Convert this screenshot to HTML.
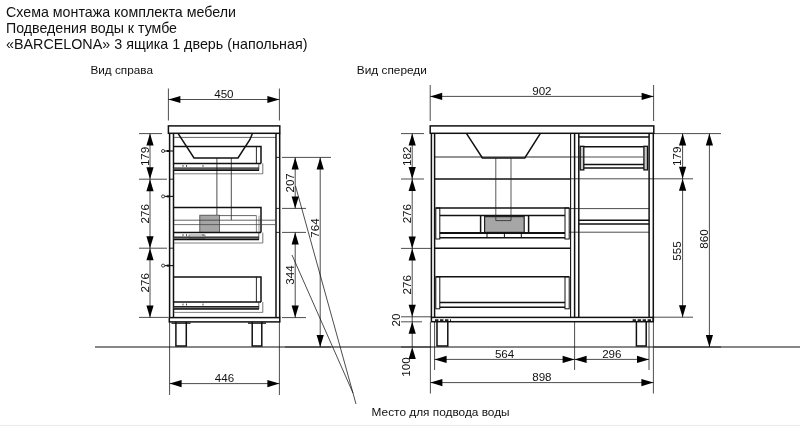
<!DOCTYPE html>
<html><head><meta charset="utf-8"><title>Схема монтажа</title>
<style>
html,body{margin:0;padding:0;background:#fff;}
body{width:800px;height:426px;overflow:hidden;font-family:"Liberation Sans",sans-serif;}
svg{display:block;will-change:transform;font-family:"Liberation Sans",sans-serif;fill:#111;}
</style></head><body>
<svg width="800" height="426" viewBox="0 0 800 426">
<rect x="0" y="0" width="800" height="426" fill="#fff" stroke="none"/>
<text x="6" y="17.2" font-size="14.2" text-anchor="start" textLength="230" lengthAdjust="spacingAndGlyphs">Схема монтажа комплекта мебели</text>
<text x="6" y="33.2" font-size="14.2" text-anchor="start" textLength="171" lengthAdjust="spacingAndGlyphs">Подведения воды к тумбе</text>
<text x="6" y="49.2" font-size="14.2" text-anchor="start" textLength="301.5" lengthAdjust="spacingAndGlyphs">«BARCELONA» 3 ящика 1 дверь (напольная)</text>
<text x="90.4" y="74.4" font-size="11.7" text-anchor="start" textLength="62.6" lengthAdjust="spacingAndGlyphs">Вид справа</text>
<text x="356.8" y="74.4" font-size="11.7" text-anchor="start" textLength="70" lengthAdjust="spacingAndGlyphs">Вид спереди</text>
<text x="371.6" y="416" font-size="11.7" text-anchor="start" textLength="138" lengthAdjust="spacingAndGlyphs">Место для подвода воды</text>
<rect x="0" y="425" width="800" height="1" fill="#ececec" stroke="#111" stroke-width="0"/>
<line x1="95" y1="347.0" x2="800" y2="347.0" stroke="#111" stroke-width="1.0"/>
<line x1="285" y1="347.0" x2="331" y2="347.0" stroke="#111" stroke-width="0.75"/>
<line x1="401" y1="347.0" x2="431" y2="347.0" stroke="#111" stroke-width="0.75"/>
<line x1="654" y1="347.0" x2="721" y2="347.0" stroke="#111" stroke-width="0.75"/>
<line x1="168.4" y1="88.5" x2="168.4" y2="120.5" stroke="#111" stroke-width="0.75"/>
<line x1="279.4" y1="88.5" x2="279.4" y2="120.5" stroke="#111" stroke-width="0.75"/>
<line x1="168.4" y1="99.5" x2="279.4" y2="99.5" stroke="#111" stroke-width="0.75"/>
<polygon points="168.4,99.5 180.4,95.9 180.4,103.1" fill="#000"/>
<polygon points="279.4,99.5 267.4,95.9 267.4,103.1" fill="#000"/>
<text x="223.89999999999998" y="97.9" font-size="11.6" text-anchor="middle">450</text>
<rect x="168.4" y="125.9" width="111.4" height="7.4" fill="none" stroke="#111" stroke-width="1.5"/>
<line x1="169.6" y1="133.4" x2="169.6" y2="317.5" stroke="#111" stroke-width="1.5"/>
<line x1="173.5" y1="133.4" x2="173.5" y2="317.5" stroke="#111" stroke-width="1.5"/>
<line x1="173.5" y1="137.4" x2="276" y2="137.4" stroke="#333" stroke-width="0.75"/>
<line x1="169.6" y1="179.2" x2="173.5" y2="179.2" stroke="#111" stroke-width="0.9"/>
<line x1="169.6" y1="248.2" x2="173.5" y2="248.2" stroke="#111" stroke-width="0.9"/>
<line x1="276.0" y1="133.4" x2="276.0" y2="317.5" stroke="#111" stroke-width="1.5"/>
<line x1="279.7" y1="133.4" x2="279.7" y2="317.5" stroke="#111" stroke-width="1.5"/>
<line x1="276" y1="157.4" x2="279.7" y2="157.4" stroke="#111" stroke-width="0.9"/>
<line x1="276" y1="208.4" x2="279.7" y2="208.4" stroke="#111" stroke-width="0.9"/>
<line x1="276" y1="232.4" x2="279.7" y2="232.4" stroke="#111" stroke-width="0.9"/>
<polyline points="178,133.4 194,158 238,158 250,139.5 252.4,133.4" fill="none" stroke="#111" stroke-width="1.5" stroke-linejoin="miter"/>
<polyline points="173.8,146.6 261,146.6 261,163.5" fill="none" stroke="#111" stroke-width="1.5" stroke-linejoin="miter"/>
<line x1="256.4" y1="146.6" x2="256.4" y2="163.5" stroke="#111" stroke-width="0.9"/>
<line x1="173.8" y1="163.4" x2="261" y2="163.4" stroke="#111" stroke-width="1.5"/>
<rect x="173.8" y="167.8" width="85.2" height="2.6" fill="#8a8a8a" stroke="#111" stroke-width="0"/>
<line x1="173.8" y1="168.0" x2="259" y2="168.0" stroke="#222" stroke-width="1.2"/>
<line x1="173.8" y1="170.3" x2="259" y2="170.3" stroke="#111" stroke-width="1.5"/>
<line x1="173.8" y1="173.8" x2="262.8" y2="173.8" stroke="#555" stroke-width="0.75"/>
<line x1="262.8" y1="163.4" x2="262.8" y2="173.8" stroke="#444" stroke-width="0.75"/>
<line x1="258.8" y1="163.4" x2="258.8" y2="170.4" stroke="#333" stroke-width="0.75"/>
<line x1="183" y1="165.0" x2="183" y2="166.8" stroke="#333" stroke-width="0.9"/>
<line x1="186.5" y1="165.0" x2="186.5" y2="166.8" stroke="#333" stroke-width="0.9"/>
<line x1="203" y1="165.0" x2="203" y2="166.8" stroke="#333" stroke-width="0.9"/>
<line x1="216.9" y1="158" x2="216.9" y2="215" stroke="#111" stroke-width="0.75"/>
<line x1="231.3" y1="158" x2="231.3" y2="220" stroke="#111" stroke-width="0.75"/>
<ellipse cx="163.1" cy="151" rx="1.6" ry="1.5" fill="none" stroke="#111" stroke-width="0.8"/>
<line x1="164.7" y1="151" x2="173.5" y2="151" stroke="#111" stroke-width="1.1"/>
<line x1="166.8" y1="151" x2="169.4" y2="151" stroke="#111" stroke-width="2.0"/>
<ellipse cx="163.1" cy="196.4" rx="1.6" ry="1.5" fill="none" stroke="#111" stroke-width="0.8"/>
<line x1="164.7" y1="196.4" x2="173.5" y2="196.4" stroke="#111" stroke-width="1.1"/>
<line x1="166.8" y1="196.4" x2="169.4" y2="196.4" stroke="#111" stroke-width="2.0"/>
<ellipse cx="163.1" cy="265.6" rx="1.6" ry="1.5" fill="none" stroke="#111" stroke-width="0.8"/>
<line x1="164.7" y1="265.6" x2="173.5" y2="265.6" stroke="#111" stroke-width="1.1"/>
<line x1="166.8" y1="265.6" x2="169.4" y2="265.6" stroke="#111" stroke-width="2.0"/>
<polyline points="173.8,207.6 261,207.6 261,232.6" fill="none" stroke="#111" stroke-width="1.5" stroke-linejoin="miter"/>
<rect x="199.8" y="215.2" width="19.6" height="17.4" fill="#a6a6a6" stroke="#444" stroke-width="0.8"/>
<line x1="256.4" y1="215.6" x2="256.4" y2="232.6" stroke="#555" stroke-width="0.75"/>
<line x1="259.0" y1="215.6" x2="259.0" y2="232.6" stroke="#777" stroke-width="0.75"/>
<line x1="219.4" y1="215.6" x2="256.4" y2="215.6" stroke="#333" stroke-width="0.75"/>
<line x1="173.8" y1="220.2" x2="275.3" y2="220.2" stroke="#333" stroke-width="0.75"/>
<line x1="173.8" y1="224.6" x2="275.3" y2="224.6" stroke="#444" stroke-width="0.75"/>
<line x1="173.8" y1="232.6" x2="261" y2="232.6" stroke="#111" stroke-width="1.5"/>
<rect x="173.8" y="237.0" width="85.2" height="2.6" fill="#8a8a8a" stroke="#111" stroke-width="0"/>
<line x1="173.8" y1="237.2" x2="259" y2="237.2" stroke="#222" stroke-width="1.2"/>
<line x1="173.8" y1="239.5" x2="259" y2="239.5" stroke="#111" stroke-width="1.5"/>
<line x1="173.8" y1="243.0" x2="262.8" y2="243.0" stroke="#555" stroke-width="0.75"/>
<line x1="262.8" y1="232.6" x2="262.8" y2="243.0" stroke="#444" stroke-width="0.75"/>
<line x1="258.8" y1="232.6" x2="258.8" y2="239.6" stroke="#333" stroke-width="0.75"/>
<line x1="183" y1="234.2" x2="183" y2="236.0" stroke="#333" stroke-width="0.9"/>
<line x1="186.5" y1="234.2" x2="186.5" y2="236.0" stroke="#333" stroke-width="0.9"/>
<line x1="203" y1="234.2" x2="203" y2="236.0" stroke="#333" stroke-width="0.9"/>
<rect x="189" y="235" width="16" height="3.4" fill="none" stroke="#444" stroke-width="0.6"/>
<polyline points="173.8,277 261,277 261,302" fill="none" stroke="#111" stroke-width="1.5" stroke-linejoin="miter"/>
<line x1="256.4" y1="277" x2="256.4" y2="302" stroke="#111" stroke-width="0.9"/>
<line x1="173.8" y1="302" x2="261" y2="302" stroke="#111" stroke-width="1.5"/>
<rect x="173.8" y="306.4" width="85.2" height="2.6" fill="#8a8a8a" stroke="#111" stroke-width="0"/>
<line x1="173.8" y1="306.6" x2="259" y2="306.6" stroke="#222" stroke-width="1.2"/>
<line x1="173.8" y1="308.9" x2="259" y2="308.9" stroke="#111" stroke-width="1.5"/>
<line x1="173.8" y1="312.4" x2="262.8" y2="312.4" stroke="#555" stroke-width="0.75"/>
<line x1="262.8" y1="302" x2="262.8" y2="312.4" stroke="#444" stroke-width="0.75"/>
<line x1="258.8" y1="302" x2="258.8" y2="309.0" stroke="#333" stroke-width="0.75"/>
<line x1="183" y1="303.6" x2="183" y2="305.4" stroke="#333" stroke-width="0.9"/>
<line x1="186.5" y1="303.6" x2="186.5" y2="305.4" stroke="#333" stroke-width="0.9"/>
<line x1="203" y1="303.6" x2="203" y2="305.4" stroke="#333" stroke-width="0.9"/>
<rect x="169.3" y="317.6" width="110.5" height="4.3" fill="none" stroke="#111" stroke-width="1.5"/>
<polyline points="175.9,322 175.9,346.1 186.3,346.1 186.3,322" fill="none" stroke="#111" stroke-width="1.5" stroke-linejoin="miter"/>
<line x1="171.5" y1="323.2" x2="190.5" y2="323.2" stroke="#111" stroke-width="1.2"/>
<polyline points="252.2,322 252.2,346.1 261.8,346.1 261.8,322" fill="none" stroke="#111" stroke-width="1.5" stroke-linejoin="miter"/>
<line x1="248" y1="323.2" x2="266" y2="323.2" stroke="#111" stroke-width="1.2"/>
<line x1="169.6" y1="322" x2="169.6" y2="395" stroke="#111" stroke-width="0.75"/>
<line x1="279.4" y1="322" x2="279.4" y2="395" stroke="#111" stroke-width="0.75"/>
<line x1="169.6" y1="383.6" x2="279.4" y2="383.6" stroke="#111" stroke-width="0.75"/>
<polygon points="169.6,383.6 181.6,380.0 181.6,387.20000000000005" fill="#000"/>
<polygon points="279.4,383.6 267.4,380.0 267.4,387.20000000000005" fill="#000"/>
<text x="224.5" y="382.0" font-size="11.6" text-anchor="middle">446</text>
<line x1="139" y1="133.6" x2="162" y2="133.6" stroke="#111" stroke-width="0.75"/>
<line x1="139" y1="179.2" x2="167" y2="179.2" stroke="#111" stroke-width="0.75"/>
<line x1="139" y1="248.2" x2="167" y2="248.2" stroke="#111" stroke-width="0.75"/>
<line x1="139" y1="317.4" x2="168" y2="317.4" stroke="#111" stroke-width="0.75"/>
<line x1="150" y1="133.6" x2="150" y2="179.2" stroke="#111" stroke-width="0.75"/>
<polygon points="150,133.6 146.4,145.6 153.6,145.6" fill="#000"/>
<polygon points="150,179.2 146.4,167.2 153.6,167.2" fill="#000"/>
<text x="148.8" y="156.39999999999998" font-size="11.6" text-anchor="middle" transform="rotate(-90 148.8 156.39999999999998)">179</text>
<line x1="150" y1="179.2" x2="150" y2="248.2" stroke="#111" stroke-width="0.75"/>
<polygon points="150,179.2 146.4,191.2 153.6,191.2" fill="#000"/>
<polygon points="150,248.2 146.4,236.2 153.6,236.2" fill="#000"/>
<text x="148.8" y="213.7" font-size="11.6" text-anchor="middle" transform="rotate(-90 148.8 213.7)">276</text>
<line x1="150" y1="248.2" x2="150" y2="317.4" stroke="#111" stroke-width="0.75"/>
<polygon points="150,248.2 146.4,260.2 153.6,260.2" fill="#000"/>
<polygon points="150,317.4 146.4,305.4 153.6,305.4" fill="#000"/>
<text x="148.8" y="282.79999999999995" font-size="11.6" text-anchor="middle" transform="rotate(-90 148.8 282.79999999999995)">276</text>
<line x1="282" y1="157.4" x2="331" y2="157.4" stroke="#111" stroke-width="0.75"/>
<line x1="282" y1="208.4" x2="306" y2="208.4" stroke="#111" stroke-width="0.75"/>
<line x1="282" y1="232.4" x2="306" y2="232.4" stroke="#111" stroke-width="0.75"/>
<line x1="282" y1="317.6" x2="306" y2="317.6" stroke="#111" stroke-width="0.75"/>
<line x1="295.2" y1="157.4" x2="295.2" y2="208.4" stroke="#111" stroke-width="0.75"/>
<polygon points="295.2,157.4 291.59999999999997,169.4 298.8,169.4" fill="#000"/>
<polygon points="295.2,208.4 291.59999999999997,196.4 298.8,196.4" fill="#000"/>
<text x="294.0" y="182.9" font-size="11.6" text-anchor="middle" transform="rotate(-90 294.0 182.9)">207</text>
<line x1="295.2" y1="232.4" x2="295.2" y2="317.6" stroke="#111" stroke-width="0.75"/>
<polygon points="295.2,232.4 291.59999999999997,244.4 298.8,244.4" fill="#000"/>
<polygon points="295.2,317.6 291.59999999999997,305.6 298.8,305.6" fill="#000"/>
<text x="294.0" y="275.0" font-size="11.6" text-anchor="middle" transform="rotate(-90 294.0 275.0)">344</text>
<line x1="320.2" y1="157.4" x2="320.2" y2="347" stroke="#111" stroke-width="0.75"/>
<polygon points="320.2,157.4 316.59999999999997,169.4 323.8,169.4" fill="#000"/>
<polygon points="320.2,347 316.59999999999997,335 323.8,335" fill="#000"/>
<text x="319.0" y="228" font-size="11.6" text-anchor="middle" transform="rotate(-90 319.0 228)">764</text>
<line x1="295.5" y1="186" x2="356" y2="404" stroke="#111" stroke-width="0.75"/>
<line x1="292" y1="255" x2="353" y2="393" stroke="#111" stroke-width="0.75"/>
<line x1="430.2" y1="85" x2="430.2" y2="121" stroke="#111" stroke-width="0.75"/>
<line x1="653.6" y1="85" x2="653.6" y2="121" stroke="#111" stroke-width="0.75"/>
<line x1="430.2" y1="96.4" x2="653.6" y2="96.4" stroke="#111" stroke-width="0.75"/>
<polygon points="430.2,96.4 442.2,92.80000000000001 442.2,100.0" fill="#000"/>
<polygon points="653.6,96.4 641.6,92.80000000000001 641.6,100.0" fill="#000"/>
<text x="541.9" y="94.80000000000001" font-size="11.6" text-anchor="middle">902</text>
<rect x="430.2" y="125.9" width="223.6" height="7.4" fill="none" stroke="#111" stroke-width="1.5"/>
<line x1="431.4" y1="133.4" x2="431.4" y2="317.5" stroke="#111" stroke-width="1.5"/>
<line x1="434.6" y1="133.4" x2="434.6" y2="317.5" stroke="#111" stroke-width="1.5"/>
<line x1="570.6" y1="133.4" x2="570.6" y2="317.5" stroke="#111" stroke-width="1.1"/>
<line x1="574.6" y1="133.4" x2="574.6" y2="317.5" stroke="#111" stroke-width="1.5"/>
<line x1="578.8" y1="133.4" x2="578.8" y2="317.5" stroke="#111" stroke-width="1.5"/>
<line x1="649.1" y1="133.4" x2="649.1" y2="317.5" stroke="#111" stroke-width="1.5"/>
<line x1="653.3" y1="133.4" x2="653.3" y2="321.5" stroke="#111" stroke-width="1.5"/>
<polyline points="466.4,133.4 482.4,158 524.8,158 540.4,133.4" fill="none" stroke="#111" stroke-width="1.5" stroke-linejoin="miter"/>
<line x1="434.6" y1="157" x2="570.6" y2="157" stroke="#111" stroke-width="0.9"/>
<line x1="434.6" y1="179" x2="570.6" y2="179" stroke="#111" stroke-width="1.5"/>
<line x1="434.6" y1="248.2" x2="570.6" y2="248.2" stroke="#111" stroke-width="1.5"/>
<line x1="435.8" y1="208" x2="569.2" y2="208" stroke="#111" stroke-width="1.5"/>
<rect x="435.8" y="208" width="4" height="31" fill="none" stroke="#111" stroke-width="1.0"/>
<rect x="565" y="208" width="4.2" height="31" fill="none" stroke="#111" stroke-width="1.0"/>
<line x1="439.8" y1="215.6" x2="565" y2="215.6" stroke="#111" stroke-width="1.5"/>
<rect x="484.6" y="216.6" width="39.6" height="15.8" fill="#a6a6a6" stroke="#222" stroke-width="1.2"/>
<line x1="480.6" y1="216" x2="480.6" y2="232.4" stroke="#111" stroke-width="1.5"/>
<line x1="528.6" y1="216" x2="528.6" y2="232.4" stroke="#111" stroke-width="1.5"/>
<polyline points="495.8,158 495.8,220.6 511,220.6 511,158" fill="none" stroke="#222" stroke-width="0.75" stroke-linejoin="miter"/>
<line x1="439.8" y1="232.9" x2="565" y2="232.9" stroke="#111" stroke-width="2.0"/>
<line x1="439.8" y1="237.8" x2="565" y2="237.8" stroke="#111" stroke-width="1.5"/>
<line x1="487" y1="233" x2="487" y2="237.8" stroke="#111" stroke-width="1.0"/>
<line x1="504.4" y1="233" x2="504.4" y2="237.8" stroke="#111" stroke-width="1.0"/>
<line x1="521.3" y1="233" x2="521.3" y2="237.8" stroke="#111" stroke-width="1.0"/>
<line x1="435.8" y1="276.8" x2="569.2" y2="276.8" stroke="#111" stroke-width="1.5"/>
<rect x="435.8" y="276.8" width="4" height="32" fill="none" stroke="#111" stroke-width="1.0"/>
<rect x="565" y="276.8" width="4.2" height="32" fill="none" stroke="#111" stroke-width="1.0"/>
<line x1="439.8" y1="302.6" x2="565" y2="302.6" stroke="#111" stroke-width="1.5"/>
<line x1="439.8" y1="307.2" x2="565" y2="307.2" stroke="#111" stroke-width="1.5"/>
<rect x="431.4" y="317.4" width="221.9" height="4.3" fill="none" stroke="#111" stroke-width="1.5"/>
<polyline points="437,322 437,346.1 447.8,346.1 447.8,322" fill="none" stroke="#111" stroke-width="1.5" stroke-linejoin="miter"/>
<line x1="435" y1="320.2" x2="451" y2="320.2" stroke="#222" stroke-width="1.8" stroke-dasharray="3.4 1.6"/>
<polyline points="636.4,322 636.4,346.1 646.2,346.1 646.2,322" fill="none" stroke="#111" stroke-width="1.5" stroke-linejoin="miter"/>
<line x1="632.6" y1="320.2" x2="652.6" y2="320.2" stroke="#222" stroke-width="1.8" stroke-dasharray="3.4 1.6"/>
<line x1="578.8" y1="137" x2="649" y2="137" stroke="#111" stroke-width="1.5"/>
<line x1="583.8" y1="146.8" x2="643.9" y2="146.8" stroke="#111" stroke-width="1.5"/>
<rect x="580.2" y="146.3" width="3.6" height="23.6" fill="#c8c8c8" stroke="#111" stroke-width="1.3"/>
<rect x="643.9" y="146.3" width="3.6" height="23.6" fill="#c8c8c8" stroke="#111" stroke-width="1.3"/>
<line x1="583.8" y1="164.4" x2="643.9" y2="164.4" stroke="#111" stroke-width="1.5"/>
<line x1="583.8" y1="168" x2="643.9" y2="168" stroke="#111" stroke-width="1.5"/>
<line x1="570.6" y1="157" x2="643" y2="157" stroke="#111" stroke-width="0.75"/>
<line x1="570.6" y1="178.8" x2="693" y2="178.8" stroke="#111" stroke-width="0.75"/>
<line x1="569.2" y1="208.6" x2="649" y2="208.6" stroke="#111" stroke-width="0.75"/>
<line x1="569.2" y1="232.2" x2="649" y2="232.2" stroke="#111" stroke-width="0.75"/>
<line x1="578.8" y1="220.2" x2="649" y2="220.2" stroke="#111" stroke-width="1.5"/>
<line x1="578.8" y1="224" x2="649" y2="224" stroke="#111" stroke-width="1.5"/>
<line x1="401" y1="133.6" x2="424" y2="133.6" stroke="#111" stroke-width="0.75"/>
<line x1="401" y1="179" x2="424" y2="179" stroke="#111" stroke-width="0.75"/>
<line x1="401" y1="248.4" x2="431" y2="248.4" stroke="#111" stroke-width="0.75"/>
<line x1="401" y1="316.8" x2="431" y2="316.8" stroke="#111" stroke-width="0.75"/>
<line x1="401" y1="321.8" x2="422" y2="321.8" stroke="#111" stroke-width="0.75"/>
<line x1="412.2" y1="133.6" x2="412.2" y2="179" stroke="#111" stroke-width="0.75"/>
<polygon points="412.2,133.6 408.59999999999997,145.6 415.8,145.6" fill="#000"/>
<polygon points="412.2,179 408.59999999999997,167 415.8,167" fill="#000"/>
<text x="411.0" y="156.3" font-size="11.6" text-anchor="middle" transform="rotate(-90 411.0 156.3)">182</text>
<line x1="412.2" y1="179" x2="412.2" y2="248.4" stroke="#111" stroke-width="0.75"/>
<polygon points="412.2,179 408.59999999999997,191 415.8,191" fill="#000"/>
<polygon points="412.2,248.4 408.59999999999997,236.4 415.8,236.4" fill="#000"/>
<text x="411.0" y="213.7" font-size="11.6" text-anchor="middle" transform="rotate(-90 411.0 213.7)">276</text>
<line x1="412.2" y1="248.4" x2="412.2" y2="316.8" stroke="#111" stroke-width="0.75"/>
<polygon points="412.2,248.4 408.59999999999997,260.4 415.8,260.4" fill="#000"/>
<polygon points="412.2,316.8 408.59999999999997,304.8 415.8,304.8" fill="#000"/>
<text x="411.0" y="284.8" font-size="11.6" text-anchor="middle" transform="rotate(-90 411.0 284.8)">276</text>
<line x1="412.2" y1="316.8" x2="412.2" y2="347" stroke="#111" stroke-width="0.75"/>
<polygon points="412.2,321.8 408.59999999999997,333.8 415.8,333.8" fill="#000"/>
<text x="400" y="320" font-size="11.6" text-anchor="middle" transform="rotate(-90 400 320)">20</text>
<polygon points="412.2,347 408.59999999999997,359 415.8,359" fill="#000"/>
<text x="409.6" y="367" font-size="11.6" text-anchor="middle" transform="rotate(-90 409.6 367)">100</text>
<line x1="653.6" y1="133.6" x2="721" y2="133.6" stroke="#111" stroke-width="0.75"/>
<line x1="653.6" y1="317.2" x2="693" y2="317.2" stroke="#111" stroke-width="0.75"/>
<line x1="682.6" y1="133.6" x2="682.6" y2="178.8" stroke="#111" stroke-width="0.75"/>
<polygon points="682.6,133.6 679.0,145.6 686.2,145.6" fill="#000"/>
<polygon points="682.6,178.8 679.0,166.8 686.2,166.8" fill="#000"/>
<text x="681.4" y="156.2" font-size="11.6" text-anchor="middle" transform="rotate(-90 681.4 156.2)">179</text>
<line x1="682.6" y1="178.8" x2="682.6" y2="317.2" stroke="#111" stroke-width="0.75"/>
<polygon points="682.6,178.8 679.0,190.8 686.2,190.8" fill="#000"/>
<polygon points="682.6,317.2 679.0,305.2 686.2,305.2" fill="#000"/>
<text x="681.4" y="251" font-size="11.6" text-anchor="middle" transform="rotate(-90 681.4 251)">555</text>
<line x1="709.4" y1="133.6" x2="709.4" y2="347" stroke="#111" stroke-width="0.75"/>
<polygon points="709.4,133.6 705.8,145.6 713.0,145.6" fill="#000"/>
<polygon points="709.4,347 705.8,335 713.0,335" fill="#000"/>
<text x="708.1999999999999" y="239" font-size="11.6" text-anchor="middle" transform="rotate(-90 708.1999999999999 239)">860</text>
<line x1="434.6" y1="322" x2="434.6" y2="370" stroke="#111" stroke-width="0.75"/>
<line x1="430.4" y1="322" x2="430.4" y2="393.5" stroke="#111" stroke-width="0.75"/>
<line x1="574.6" y1="322" x2="574.6" y2="370" stroke="#111" stroke-width="0.75"/>
<line x1="649" y1="322" x2="649" y2="370" stroke="#111" stroke-width="0.75"/>
<line x1="653.4" y1="322" x2="653.4" y2="393.5" stroke="#111" stroke-width="0.75"/>
<line x1="434.6" y1="359.4" x2="574.6" y2="359.4" stroke="#111" stroke-width="0.75"/>
<polygon points="434.6,359.4 446.6,355.79999999999995 446.6,363.0" fill="#000"/>
<polygon points="574.6,359.4 562.6,355.79999999999995 562.6,363.0" fill="#000"/>
<text x="504.6" y="357.79999999999995" font-size="11.6" text-anchor="middle">564</text>
<line x1="574.6" y1="359.4" x2="649" y2="359.4" stroke="#111" stroke-width="0.75"/>
<polygon points="574.6,359.4 586.6,355.79999999999995 586.6,363.0" fill="#000"/>
<polygon points="649,359.4 637,355.79999999999995 637,363.0" fill="#000"/>
<text x="611.8" y="357.79999999999995" font-size="11.6" text-anchor="middle">296</text>
<line x1="430.4" y1="382.6" x2="653.4" y2="382.6" stroke="#111" stroke-width="0.75"/>
<polygon points="430.4,382.6 442.4,379.0 442.4,386.20000000000005" fill="#000"/>
<polygon points="653.4,382.6 641.4,379.0 641.4,386.20000000000005" fill="#000"/>
<text x="541.9" y="381.0" font-size="11.6" text-anchor="middle">898</text>
</svg>
</body></html>
